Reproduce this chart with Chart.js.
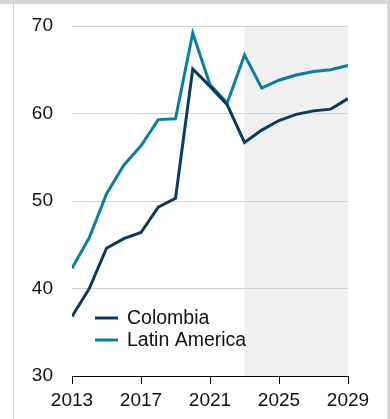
<!DOCTYPE html>
<html>
<head>
<meta charset="utf-8">
<script src="https://cdn.jsdelivr.net/npm/chart.js@4/dist/chart.umd.min.js"></script>
<style>
  html, body { margin: 0; padding: 0; background: #ffffff; }
  body { width: 390px; height: 419px; position: relative; overflow: hidden; font-family: "Liberation Sans", Arial, sans-serif; }
  #topband { position: absolute; left: 0; top: 0; width: 390px; height: 4px; background: #d6d6d6; }
  #leftrule { position: absolute; left: 13px; top: 4px; width: 1px; height: 415px; background: #d0d0d0; }
  #rightrule { position: absolute; left: 387px; top: 0; width: 3px; height: 419px; background: #d6d6d6; }
  #wrap { position: absolute; left: 0; top: 0; width: 390px; height: 419px; }
</style>
</head>
<body>
<div id="topband"></div>
<div id="leftrule"></div>
<div id="rightrule"></div>
<div id="wrap"><canvas id="chart"></canvas></div>
<script>
// Annual series, 2013–2029 (2023 onward are projections)
const years = [2013, 2014, 2015, 2016, 2017, 2018, 2019, 2020, 2021, 2022, 2023, 2024, 2025, 2026, 2027, 2028, 2029];
const colombia = [36.8, 40.0, 44.6, 45.7, 46.4, 49.3, 50.3, 65.1, 63.1, 61.0, 56.7, 58.1, 59.2, 59.9, 60.3, 60.5, 61.7];
const latinAmerica = [42.3, 45.8, 50.8, 54.1, 56.3, 59.3, 59.4, 69.2, 63.3, 61.2, 66.7, 62.9, 63.8, 64.4, 64.8, 65.0, 65.5];
const seriesNames = ["Colombia", "Latin America"];
const projectionStart = 2023;
const xTicks = [2013, 2017, 2021, 2025, 2029];
const yTicks = [30, 40, 50, 60, 70];

const COL_DARK = "#0b3a5d";
const COL_TEAL = "#0a7ea2";
const FONT = { family: "'Liberation Sans', Arial, sans-serif", size: 19 };

function toPoints(vals) {
  return years.map((y, i) => ({ x: y, y: vals[i] }));
}

// Grey band behind the projection years
const projectionShade = {
  id: "projectionShade",
  beforeDraw(chart) {
    const { ctx, chartArea, scales } = chart;
    const x0 = scales.x.getPixelForValue(projectionStart);
    const x1 = scales.x.getPixelForValue(years[years.length - 1]);
    ctx.save();
    ctx.fillStyle = "#f0f0f0";
    ctx.fillRect(x0, chartArea.top, x1 - x0, chartArea.bottom - chartArea.top);
    ctx.restore();
  }
};

// Legend drawn inside the plot, lower left
const innerLegend = {
  id: "innerLegend",
  afterDatasetsDraw(chart) {
    const { ctx } = chart;
    const rows = [318, 340];
    ctx.save();
    chart.data.datasets.forEach((ds, i) => {
      const y = rows[i];
      ctx.strokeStyle = ds.borderColor;
      ctx.lineWidth = 3;
      ctx.beginPath();
      ctx.moveTo(95, y);
      ctx.lineTo(118, y);
      ctx.stroke();
      ctx.fillStyle = "#111111";
      ctx.font = `19.5px ${FONT.family}`;
      ctx.textBaseline = "middle";
      ctx.textAlign = "left";
      ctx.fillText(ds.label, 127, y + 1);
    });
    ctx.restore();
  }
};

new Chart(document.getElementById("chart"), {
  type: "line",
  data: {
    datasets: [
      { label: seriesNames[0], data: toPoints(colombia), borderColor: COL_DARK, backgroundColor: COL_DARK, borderWidth: 3, pointRadius: 0, tension: 0 },
      { label: seriesNames[1], data: toPoints(latinAmerica), borderColor: COL_TEAL, backgroundColor: COL_TEAL, borderWidth: 3, pointRadius: 0, tension: 0 }
    ]
  },
  options: {
    responsive: true,
    maintainAspectRatio: false,
    animation: false,
    events: [],
    layout: { padding: { top: 26, right: 42, left: 0, bottom: 0 } },
    plugins: { legend: { display: false }, tooltip: { enabled: false }, title: { display: false } },
    scales: {
      x: {
        type: "linear",
        min: 2013,
        max: 2029,
        afterBuildTicks(scale) { scale.ticks = xTicks.map(v => ({ value: v })); },
        afterFit(scale) { scale.height = 43; },
        grid: { drawOnChartArea: false, drawTicks: true, tickLength: 8, color: "#000000", lineWidth: 1 },
        border: { display: true, color: "#000000", width: 1 },
        ticks: { color: "#111111", font: FONT, padding: 5, maxRotation: 0, autoSkip: false, callback: v => String(v) }
      },
      y: {
        min: 30,
        max: 70,
        afterBuildTicks(scale) { scale.ticks = yTicks.map(v => ({ value: v })); },
        afterFit(scale) {
          scale.width = 72;
          // keep the tick-label gap from inflating the plot's top and bottom margins
          scale.paddingTop = 0;
          scale.paddingBottom = 0;
        },
        grid: { drawTicks: false, color: "#d0d0d0", lineWidth: 1 },
        border: { display: false },
        ticks: { color: "#111111", font: FONT, padding: 19, callback: v => String(v) }
      }
    }
  },
  plugins: [projectionShade, innerLegend]
});
</script>
</body>
</html>
